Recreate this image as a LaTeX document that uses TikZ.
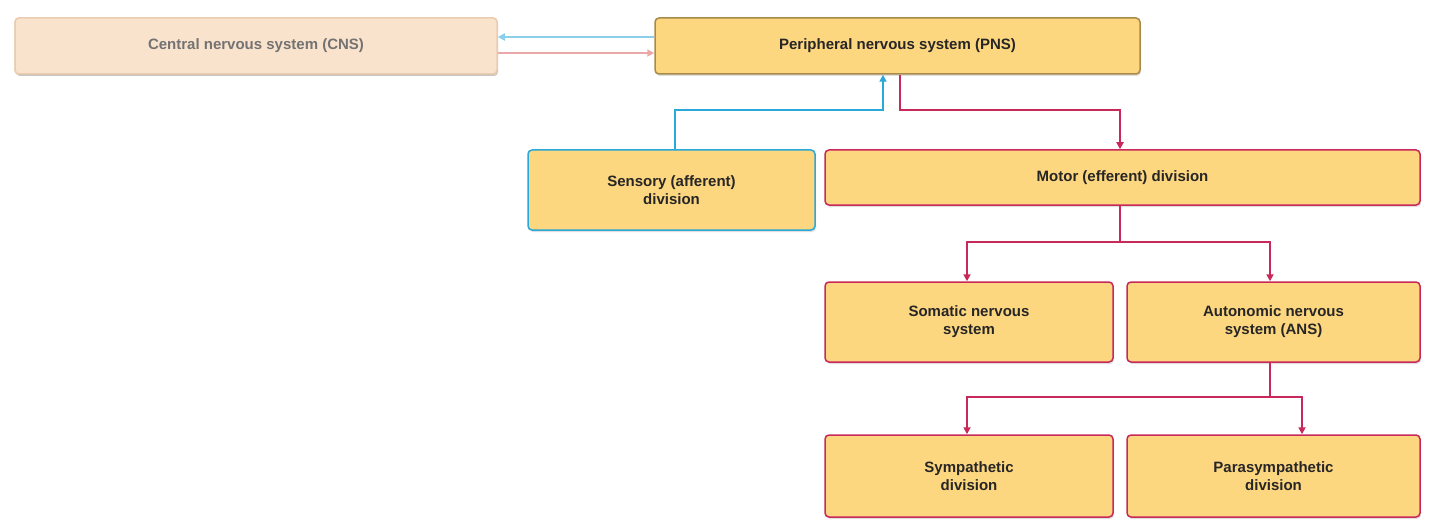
\documentclass[tikz,border=0pt]{standalone}
\usepackage{fontspec}
\setmainfont{Liberation Sans}
\usetikzlibrary{arrows.meta,shadows}
\definecolor{boxfill}{HTML}{FDD680}
\definecolor{cnsfill}{HTML}{FAE3CC}
\definecolor{cnsline}{HTML}{EACCB0}
\definecolor{pnsline}{HTML}{A88A4A}
\definecolor{blueln}{HTML}{2AA8D8}
\definecolor{redln}{HTML}{C8285A}
\definecolor{pinkln}{HTML}{EBA8A8}
\definecolor{lblue}{HTML}{8CCFEA}
\begin{document}
\begin{tikzpicture}[x=1pt,y=-1pt,
  box/.style={draw, line width=1.5pt, rounded corners=4pt, fill=boxfill, font=\bfseries\fontsize{15}{18}\selectfont, text=black!85, align=center, inner sep=0pt, drop shadow={shadow xshift=1pt,shadow yshift=-2pt,opacity=0.25}},
  red/.style={draw=redln, line width=2.5pt, -{Triangle[length=7pt,width=7pt]}},
  blu/.style={draw=blueln, line width=2.5pt, -{Triangle[length=7pt,width=7pt]}}]
\useasboundingbox (0,0) rectangle (1440,532);
\def\bx#1#2#3#4#5#6#7{\node[box,draw=#6,minimum width=#3-#1,minimum height=#4-#2] (#5) at ({(#1+#3)/2},{(#2+#4)/2}) {#7};}
\bx{15}{18}{497}{74}{cns}{cnsline}{\textcolor{black!55}{Central nervous system (CNS)}}
\node[box,draw=cnsline,fill=cnsfill,minimum width=482,minimum height=56,text=black!55] (cns) at (256,46) {Central nervous system (CNS)};
\bx{655}{18}{1140}{74}{pns}{pnsline}{Peripheral nervous system (PNS)}
\bx{528}{150}{815}{230}{sen}{blueln}{Sensory (afferent)\\division}
\bx{825}{150}{1420}{205}{mot}{redln}{Motor (efferent) division}
\bx{825}{282}{1113}{362}{som}{redln}{Somatic nervous\\system}
\bx{1127}{282}{1420}{362}{ans}{redln}{Autonomic nervous\\system (ANS)}
\bx{825}{435}{1113}{517}{sym}{redln}{Sympathetic\\division}
\bx{1127}{435}{1420}{517}{par}{redln}{Parasympathetic\\division}
\draw[draw=lblue,line width=2.5pt,-{Triangle[length=7pt,width=7pt]}] (pns.west|-0,37) -- (cns.east|-0,37);
\draw[draw=pinkln,line width=2.5pt,-{Triangle[length=7pt,width=7pt]}] (cns.east|-0,53) -- (pns.west|-0,53);
\draw[blu] (sen.north-|675,0) -- (675,110) -- (883,110) -- (pns.south-|883,0);
\draw[red] (pns.south-|900,0) -- (900,110) -- (1120,110) -- (mot.north-|1120,0);
\draw[red] (mot.south-|1120,0) -- (1120,242) -- (967,242) -- (som.north-|967,0);
\draw[red] (1120,242) -- (1270,242) -- (ans.north-|1270,0);
\draw[red] (ans.south-|1270,0) -- (1270,397) -- (967,397) -- (sym.north-|967,0);
\draw[red] (1270,397) -- (1302,397) -- (par.north-|1302,0);
\end{tikzpicture}
\end{document}
